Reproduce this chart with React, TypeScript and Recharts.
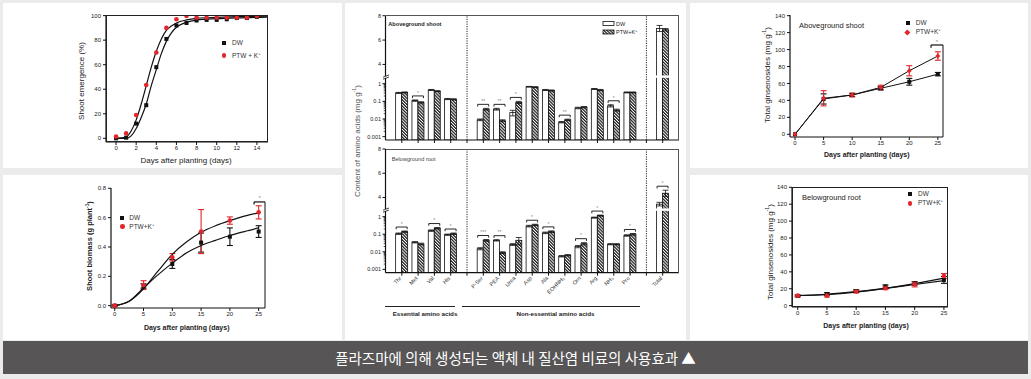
import React from 'react'
import { ScatterChart, Scatter, XAxis, YAxis, ErrorBar, ReferenceLine, BarChart, Bar } from 'recharts'

const FONT = '"Liberation Sans", Arial, Helvetica, sans-serif'
const INK = '#111'
const RED = '#e2262b'

// shoot emergence (%)
const emergDays = [0, 1, 2, 3, 4, 5, 6, 7, 8, 9, 10, 11, 12, 13, 14]
const emergDW = [0, 0.5, 12, 27, 58, 81, 92, 94, 96, 96.5, 96.5, 97, 98, 98, 99]
const emergPTW = [1.4, 4, 19, 43.5, 70, 90, 97, 99.7, 98.4, 98.4, 98.4, 98.4, 98.4, 98.4, 99.7]
const emergFitX = [0, 1, 1.5, 2, 2.5, 3, 3.5, 4, 4.5, 5, 5.5, 6, 7, 8, 10, 12, 15]
const emergFitDW = [0, 0, 2, 8, 17, 28, 43, 56, 69, 79, 86, 90.5, 94.5, 96.3, 97.5, 98.2, 98.8]
const emergFitPTW = [0, 1, 6, 15, 28, 43, 58, 71, 81, 88, 91.5, 94, 96.5, 97.8, 98.6, 99.1, 99.5]

// shoot biomass (g plant-1)
const bioDays = [0, 5, 10, 15, 20, 25]
const bioDW = [0, 0.134, 0.284, 0.43, 0.47, 0.505]
const bioDWErr = [0.005, 0.015, 0.03, 0.065, 0.06, 0.04]
const bioPTW = [0, 0.14, 0.33, 0.505, 0.58, 0.636]
const bioPTWErr = [0.005, 0.03, 0.025, 0.15, 0.025, 0.045]
const bioFitX = [0, 2.5, 5, 7.5, 10, 12.5, 15, 17.5, 20, 22.5, 25]
const bioFitDW = [0, 0.03, 0.12, 0.21, 0.29, 0.36, 0.41, 0.445, 0.478, 0.505, 0.53]
const bioFitPTW = [0, 0.03, 0.115, 0.235, 0.35, 0.435, 0.5, 0.545, 0.58, 0.61, 0.633]

// total ginsenosides (mg g-1)
const ginDays = [0, 5, 10, 15, 20, 25]
const ginShootDW = [0, 41.7, 46.4, 54.3, 62, 71]
const ginShootDWErr = [0, 6, 2, 2, 4, 2]
const ginShootPTW = [0, 42.5, 46.4, 55.4, 75, 92.4]
const ginShootPTWErr = [0, 9, 2, 2.5, 6, 5]
const ginRootDW = [11.4, 13.8, 17.3, 22.5, 26.4, 30.4]
const ginRootDWErr = [1, 1.5, 1.5, 2, 2, 4]
const ginRootPTW = [11.8, 11.8, 16.6, 20.5, 25.2, 35]
const ginRootPTWErr = [1, 1.5, 1.5, 1.5, 3, 3]
const ginRootFitDW = [12, 13.5, 16.5, 20.5, 25, 29.5]
const ginRootFitPTW = [12, 13, 16, 20.5, 26, 32.5]

// amino acids (mg g-1)
const aaNames = ['Thr', 'Met', 'Val', 'His', 'sep1', 'P-Ser', 'PEA', 'Urea', 'Asp', 'Ala', 'EOHNH₂', 'Orn', 'Arg', 'NH₃', 'Pro', 'sep2', 'Total']
const shootDW = [0.3, 0.11, 0.44, 0.135, null, 0.009, 0.036, 0.023, 0.67, 0.44, 0.0066, 0.042, 0.5, 0.056, 0.32, null, 6.95]
const shootPTW = [0.32, 0.087, 0.38, 0.13, null, 0.036, 0.008, 0.087, 0.64, 0.41, 0.009, 0.047, 0.44, 0.032, 0.32, null, 6.85]
const shootDWErr = [0.02, 0.01, 0.03, 0.01, 0, 0.001, 0.004, 0.008, 0.03, 0.03, 0.0006, 0.004, 0.03, 0.008, 0.02, 0, 0.25]
const shootPTWErr = [0.02, 0.008, 0.02, 0.01, 0, 0.004, 0.001, 0.012, 0.03, 0.03, 0.0008, 0.004, 0.03, 0.004, 0.02, 0, 0.1]
const shootSig = ['', '*', '', '', '', '**', '**', '*', '', '', '**', '', '', '*', '', '', '']
const rootDW = [0.107, 0.035, 0.16, 0.094, null, 0.015, 0.045, 0.026, 0.29, 0.12, 0.0056, 0.02, 0.88, 0.027, 0.085, null, 3.45]
const rootPTW = [0.14, 0.028, 0.22, 0.107, null, 0.045, 0.009, 0.045, 0.34, 0.14, 0.0064, 0.029, 1.15, 0.027, 0.1, null, 4.35]
const rootDWErr = [0.01, 0.003, 0.015, 0.008, 0, 0.002, 0.004, 0.003, 0.03, 0.012, 0.0005, 0.003, 0.06, 0.002, 0.008, 0, 0.15]
const rootPTWErr = [0.012, 0.003, 0.02, 0.01, 0, 0.005, 0.001, 0.02, 0.03, 0.015, 0.0005, 0.004, 0.08, 0.002, 0.01, 0, 0.25]
const rootSig = ['*', '', '*', '*', '', '***', '**', '', '*', '*', '', '*', '*', '', '*', '', '*']

// broken y axis: log part below the break, linear part above
const LOG_OFF = 3.19
const T_BREAK = 3.59
const V_BREAK = 3
const SLOPE = 0.69
const T_MAX = 7.04
const tv = (v: number) => (v >= 2.5 ? T_BREAK + (v - V_BREAK) * SLOPE : Math.log10(v) + LOG_OFF)

const AA_MAJORS = [
  [0.001, '0.001'], [0.01, '0.01'], [0.1, '0.1'], [1, '1'], [4, '4'], [6, '6'], [8, '8'],
].map(([v, label]) => ({ t: tv(v as number), label: label as string }))
const AA_MINORS: number[] = []
for (const k of [0.001, 0.01, 0.1]) for (let m = 2; m <= 9; m++) AA_MINORS.push(tv(k * m))
const AA_TICKS = [...AA_MAJORS.map(d => d.t), ...AA_MINORS].sort((a, b) => a - b)

const errPair = (v: number, e: number) => [tv(v) - tv(Math.max(v - e, v * 0.5)), tv(v + e) - tv(v)]

function buildRows(dw: (number | null)[], ptw: (number | null)[], dwE: number[], ptwE: number[], sig: string[]) {
  return aaNames.map((name, i) => {
    const a = dw[i]
    const b = ptw[i]
    return {
      name,
      dw: a == null ? null : tv(a),
      ptw: b == null ? null : tv(b),
      dwErr: a == null ? undefined : errPair(a, dwE[i]),
      ptwErr: b == null ? undefined : errPair(b, ptwE[i]),
      sig: sig[i],
    }
  })
}

const shootRows = buildRows(shootDW, shootPTW, shootDWErr, shootPTWErr, shootSig)
const rootRows = buildRows(rootDW, rootPTW, rootDWErr, rootPTWErr, rootSig)

const pts = (xs: number[], ys: number[], errs?: number[]) => xs.map((x, i) => ({ x, y: ys[i], err: errs ? errs[i] : undefined }))

// markers
const Sq = (p: any) => <rect x={p.cx - 2} y={p.cy - 2} width={4} height={4} fill={INK} />
const RedDot = (p: any) => <circle cx={p.cx} cy={p.cy} r={2.3} fill={RED} />
const RedDia = (p: any) => (
  <path d={`M${p.cx},${p.cy - 2.8}L${p.cx + 2.4},${p.cy}L${p.cx},${p.cy + 2.8}L${p.cx - 2.4},${p.cy}Z`} fill={RED} />
)
const NoMark = () => <g />
const EmptyTick = () => <g />

const tickFont = { fontSize: 6, fill: '#222', fontFamily: FONT }
const axLine = { stroke: INK, strokeWidth: 1.2 }

function xAx(domain: number[], ticks: number[]) {
  return {
    type: 'number' as const, dataKey: 'x', domain, ticks, allowDataOverflow: true, interval: 0 as const,
    height: 20, tickSize: 3, tickMargin: 1, axisLine: axLine, tickLine: { stroke: INK }, tick: tickFont,
  }
}
function yAx(domain: number[], ticks: number[], fmt?: (v: number) => string) {
  return {
    type: 'number' as const, dataKey: 'y', domain, ticks, allowDataOverflow: true, interval: 0 as const,
    width: 30, tickSize: 3, tickMargin: 2, axisLine: axLine, tickLine: { stroke: INK }, tick: tickFont,
    tickFormatter: fmt,
  }
}
// plot box (relative to chart) -> margin
const mg = (W: number, H: number, p: { l: number; t: number; r: number; b: number }, yw: number, xh: number) => ({
  left: p.l - yw, top: p.t, right: W - p.r, bottom: H - p.b - xh,
})

function Txt({ x, y, size = 7, bold = false, color = '#222', rot = 0, anchor = 'middle', children }: any) {
  const tx = anchor === 'middle' ? '-50%' : anchor === 'end' ? '-100%' : '0'
  return (
    <div
      style={{
        position: 'absolute', left: x, top: y, transform: `translate(${tx},-50%) rotate(${rot}deg)`,
        fontSize: size, fontWeight: bold ? 700 : 400, color, whiteSpace: 'nowrap', lineHeight: 1, fontFamily: FONT,
      }}
    >
      {children}
    </div>
  )
}
const Sup = ({ children }: any) => <sup style={{ fontSize: '0.65em', lineHeight: 0 }}>{children}</sup>

function LegendItems({ x, y1, y2, gap = 8, red = 'dot', ptwText }: any) {
  return (
    <>
      <div style={{ position: 'absolute', left: x - 2, top: y1 - 2, width: 4, height: 4, background: INK }} />
      <Txt x={x + gap} y={y1} size={6.5} anchor="start" color="#333">DW</Txt>
      <div
        style={{
          position: 'absolute', left: x - 2.3, top: y2 - 2.3, width: 4.6, height: 4.6, background: RED,
          borderRadius: red === 'dot' ? '50%' : 0, transform: red === 'dot' ? undefined : 'rotate(45deg) scale(0.85)',
        }}
      />
      <Txt x={x + gap} y={y2} size={6.5} anchor="start" color="#333">{ptwText}</Txt>
    </>
  )
}

function Box({ x, y, w, h, sides = 'all', color = '#222', bw = 1 }: any) {
  const b = `${bw}px solid ${color}`
  return (
    <div
      style={{
        position: 'absolute', left: x, top: y, width: w, height: h, boxSizing: 'border-box',
        borderTop: b, borderRight: b, borderLeft: sides === 'all' ? b : undefined, borderBottom: sides === 'all' ? b : undefined,
      }}
    />
  )
}

function Hatch({ id }: { id: string }) {
  return (
    <pattern id={id} width={2.2} height={2.2} patternUnits="userSpaceOnUse" patternTransform="rotate(-45)">
      <rect width={2.2} height={2.2} fill="#fff" />
      <line x1={0.6} y1={0} x2={0.6} y2={2.2} stroke="#1a1a1a" strokeWidth={1.25} />
    </pattern>
  )
}

function makeShape(fill: string, pxPerT: number, withSig: boolean) {
  return (p: any) => {
    const { x, y, width, height, payload } = p
    if (height == null || !(height > 0)) return <g />
    const bottom = y + height
    const breakY = bottom - T_BREAK * pxPerT
    const parts = [<rect key="r" x={x} y={y} width={width} height={height} fill={fill} stroke={INK} strokeWidth={0.8} />]
    if (y < breakY - 2) parts.push(<rect key="g" x={x - 1} y={breakY - 1.2} width={width + 2} height={2.4} fill="#fff" />)
    if (withSig && payload && payload.sig) {
      const topT = Math.max(payload.dw + (payload.dwErr ? payload.dwErr[1] : 0), payload.ptw + (payload.ptwErr ? payload.ptwErr[1] : 0))
      const yb = bottom - topT * pxPerT - 4
      const x0 = x - width + 0.5
      const x1 = x + width - 0.5
      parts.push(<path key="s" d={`M${x0},${yb + 2.2}V${yb}H${x1}V${yb + 2.2}`} fill="none" stroke={INK} strokeWidth={0.9} />)
      parts.push(
        <text key="t" x={(x0 + x1) / 2} y={yb - 1.2} textAnchor="middle" fontSize={5} fill="#888" fontFamily={FONT}>
          {payload.sig}
        </text>
      )
    }
    return <g>{parts}</g>
  }
}

function AAYTick(props: any) {
  const { x, y, payload } = props
  const ax = x + 5
  const m = AA_MAJORS.find(d => Math.abs(d.t - payload.value) < 1e-6)
  return (
    <g>
      <line x1={ax - (m ? 3 : 1.8)} x2={ax} y1={y} y2={y} stroke={INK} strokeWidth={m ? 1 : 0.7} />
      {m && (
        <text x={ax - 4.5} y={y} dy={2} textAnchor="end" fontSize={5.5} fill="#222" fontFamily={FONT}>
          {m.label}
        </text>
      )}
    </g>
  )
}

function AAXTick(props: any) {
  const { x, y, payload } = props
  if (String(payload.value).startsWith('sep')) return <g />
  return (
    <text x={x} y={y + 1} transform={`rotate(-45 ${x} ${y + 1})`} textAnchor="end" fontSize={5.5} fill="#333" fontFamily={FONT}>
      {payload.value}
    </text>
  )
}

function AminoChart({ rows, W, H, plot, xh, labels, pid }: any) {
  const pxPerT = (plot.b - plot.t) / T_MAX
  return (
    <BarChart width={W} height={H} data={rows} margin={mg(W, H, plot, 40, xh)} barGap={0}>
      <defs>
        <Hatch id={pid} />
      </defs>
      <XAxis
        dataKey="name" type="category" padding={{ left: 8.15, right: 8.15 }} height={xh} interval={0}
        axisLine={axLine} tickLine={{ stroke: INK }} tickSize={3} tickMargin={2} tick={labels ? AAXTick : EmptyTick}
      />
      <YAxis
        type="number" domain={[0, T_MAX]} allowDataOverflow ticks={AA_TICKS} interval={0} width={40}
        tickSize={3} tickMargin={2} tickLine={false} tick={AAYTick} axisLine={axLine}
      />
      <ReferenceLine x="sep1" stroke="#222" strokeDasharray="1.2 1.2" />
      <ReferenceLine x="sep2" stroke="#222" strokeDasharray="1.2 1.2" />
      <Bar dataKey="dw" barSize={6} shape={makeShape('#fff', pxPerT, false)} isAnimationActive={false}>
        <ErrorBar dataKey="dwErr" width={3} stroke={INK} strokeWidth={0.8} />
      </Bar>
      <Bar dataKey="ptw" barSize={6} shape={makeShape(`url(#${pid})`, pxPerT, true)} isAnimationActive={false}>
        <ErrorBar dataKey="ptwErr" width={3} stroke={INK} strokeWidth={0.8} />
      </Bar>
    </BarChart>
  )
}

function BreakMark({ x, y }: any) {
  return (
    <svg style={{ position: 'absolute', left: x - 5, top: y - 5 }} width={10} height={10}>
      <rect x={3} y={4} width={4} height={2} fill="#fff" />
      <line x1={2} y1={5.2} x2={8} y2={3} stroke={INK} strokeWidth={0.8} />
      <line x1={2} y1={7.2} x2={8} y2={5} stroke={INK} strokeWidth={0.8} />
    </svg>
  )
}

const abs = (left: number, top: number): React.CSSProperties => ({ position: 'absolute', left, top })

export default function App() {
  const ptwK = <>PTW+K<Sup>+</Sup></>
  return (
    <div style={{ position: 'relative', width: 1031, height: 379, background: '#ebebeb', overflow: 'hidden', fontFamily: FONT }}>
      <style>{'body{margin:0}'}</style>
      {/* panels */}
      <div style={{ ...abs(3, 3), width: 339, height: 165, background: '#fff' }} />
      <div style={{ ...abs(3, 175), width: 339, height: 165, background: '#fff' }} />
      <div style={{ ...abs(345, 3), width: 341, height: 337, background: '#fff' }} />
      <div style={{ ...abs(690, 3), width: 338, height: 165, background: '#fff' }} />
      <div style={{ ...abs(690, 175), width: 338, height: 165, background: '#fff' }} />

      {/* shoot emergence */}
      <div style={abs(3, 3)}>
        <ScatterChart width={339} height={165} margin={mg(339, 165, { l: 103, t: 12, r: 265, b: 139 }, 30, 20)}>
          <XAxis {...xAx([-1, 15.1], [0, 2, 4, 6, 8, 10, 12, 14])} />
          <YAxis {...yAx([-3, 100.5], [0, 20, 40, 60, 80, 100])} />
          <Scatter data={pts(emergFitX, emergFitDW)} line={{ stroke: INK, strokeWidth: 1.2 }} lineJointType="monotoneX" shape={NoMark} isAnimationActive={false} />
          <Scatter data={pts(emergFitX, emergFitPTW)} line={{ stroke: INK, strokeWidth: 1.2 }} lineJointType="monotoneX" shape={NoMark} isAnimationActive={false} />
          <Scatter data={pts(emergDays, emergDW)} shape={Sq} isAnimationActive={false} />
          <Scatter data={pts(emergDays, emergPTW)} shape={RedDot} isAnimationActive={false} />
        </ScatterChart>
      </div>
      <Box x={106} y={15} w={162} h={127} />
      <Txt x={81.7} y={80.8} size={8} rot={-90}>Shoot emergence (%)</Txt>
      <Txt x={186} y={160.7} size={8}>Days after planting (days)</Txt>
      <LegendItems x={224} y1={43.3} y2={55.7} ptwText={<>PTW + K<Sup>+</Sup></>} />

      {/* shoot biomass */}
      <div style={abs(3, 175)}>
        <ScatterChart width={339} height={165} margin={mg(339, 165, { l: 108, t: 13, r: 262, b: 133 }, 30, 20)}>
          <XAxis {...xAx([-0.65, 26.1], [0, 5, 10, 15, 20, 25])} />
          <YAxis {...yAx([-0.016, 0.802], [0, 0.2, 0.4, 0.6, 0.8], v => v.toFixed(1))} />
          <ReferenceLine segment={[{ x: 24.2, y: 0.69 }, { x: 24.2, y: 0.707 }]} stroke={INK} strokeWidth={1.2} ifOverflow="visible" />
          <ReferenceLine segment={[{ x: 24.2, y: 0.707 }, { x: 26.1, y: 0.707 }]} stroke={INK} strokeWidth={1.2} ifOverflow="visible" />
          <ReferenceLine segment={[{ x: 26.1, y: 0.707 }, { x: 26.1, y: -0.016 }]} stroke={INK} strokeWidth={1} ifOverflow="visible" />
          <Scatter data={pts(bioFitX, bioFitDW)} line={{ stroke: INK, strokeWidth: 1.2 }} lineJointType="monotoneX" shape={NoMark} isAnimationActive={false} />
          <Scatter data={pts(bioFitX, bioFitPTW)} line={{ stroke: INK, strokeWidth: 1.2 }} lineJointType="monotoneX" shape={NoMark} isAnimationActive={false} />
          <Scatter data={pts(bioDays, bioDW, bioDWErr)} shape={Sq} isAnimationActive={false}>
            <ErrorBar dataKey="err" direction="y" width={3} stroke={INK} strokeWidth={1.1} />
          </Scatter>
          <Scatter data={pts(bioDays, bioPTW, bioPTWErr)} shape={RedDot} isAnimationActive={false}>
            <ErrorBar dataKey="err" direction="y" width={3} stroke={RED} strokeWidth={1.1} />
          </Scatter>
        </ScatterChart>
      </div>
      <Txt x={259.6} y={197.5} size={6} color="#888">*</Txt>
      <Txt x={90} y={245.8} size={7.5} bold rot={-90}>Shoot biomass (g plant<Sup>-1</Sup>)</Txt>
      <Txt x={186.7} y={326.7} size={7} bold>Days after planting (days)</Txt>
      <LegendItems x={122.3} y1={217.7} y2={226.7} gap={7} ptwText={ptwK} />

      {/* amino acids */}
      <div style={abs(345, 3)}>
        <AminoChart rows={shootRows} W={341} H={150} plot={{ l: 40.5, t: 12.7, r: 334, b: 137 }} xh={10} labels={false} pid="hatchTop" />
      </div>
      <div style={abs(345, 140)}>
        <AminoChart rows={rootRows} W={341} H={180} plot={{ l: 40.5, t: 9, r: 334, b: 132.7 }} xh={40} labels pid="hatchBot" />
      </div>
      <Box x={385.5} y={15.2} w={293.5} h={125} sides="tr" color="#555" bw={1.4} />
      <Box x={385.5} y={148.5} w={293.5} h={124.5} sides="tr" color="#555" bw={1.4} />
      <BreakMark x={385.5} y={76.6} />
      <BreakMark x={385.5} y={209.6} />
      <Txt x={388.3} y={25} size={5.6} bold anchor="start">Aboveground shoot</Txt>
      <Txt x={391.7} y={160} size={5.6} anchor="start" color="#444">Belowground root</Txt>
      <svg style={abs(600, 18)} width={80} height={20}>
        <defs>
          <Hatch id="hatchLeg" />
        </defs>
        <rect x={3} y={3.5} width={11} height={4} fill="#fff" stroke={INK} strokeWidth={0.8} />
        <text x={16} y={7.5} fontSize={5.5} fill="#222" fontFamily={FONT}>DW</text>
        <rect x={3} y={12} width={11} height={4} fill="url(#hatchLeg)" stroke={INK} strokeWidth={0.8} />
        <text x={16} y={16} fontSize={5.5} fill="#222" fontFamily={FONT}>
          PTW+K<tspan dy={-2} fontSize={4}>+</tspan>
        </text>
      </svg>
      <Txt x={358.3} y={141} size={8} rot={-90} color="#555">Content of amino acids (mg g<Sup>-1</Sup>)</Txt>
      <div style={{ ...abs(385, 305.7), width: 70, borderTop: '1px solid #222' }} />
      <div style={{ ...abs(461.7, 305.7), width: 178.3, borderTop: '1px solid #222' }} />
      <Txt x={425} y={314} size={6.2} bold>Essential amino acids</Txt>
      <Txt x={555.5} y={314} size={6.2} bold>Non-essential amino acids</Txt>

      {/* ginsenosides, aboveground shoot */}
      <div style={abs(690, 3)}>
        <ScatterChart width={338} height={165} margin={mg(338, 165, { l: 100, t: 12, r: 253, b: 134 }, 30, 20)}>
          <XAxis {...xAx([-0.88, 25.9], [0, 5, 10, 15, 20, 25])} />
          <YAxis {...yAx([-3.2, 140.8], [0, 20, 40, 60, 80, 100, 120, 140])} />
          <ReferenceLine segment={[{ x: 23.8, y: 102 }, { x: 23.8, y: 105.4 }]} stroke={INK} strokeWidth={1.2} ifOverflow="visible" />
          <ReferenceLine segment={[{ x: 23.8, y: 105.4 }, { x: 25.9, y: 105.4 }]} stroke={INK} strokeWidth={1.2} ifOverflow="visible" />
          <ReferenceLine segment={[{ x: 25.9, y: 105.4 }, { x: 25.9, y: -3.2 }]} stroke={INK} strokeWidth={1} ifOverflow="visible" />
          <Scatter data={pts(ginDays, ginShootDW, ginShootDWErr)} line={{ stroke: INK, strokeWidth: 1 }} shape={Sq} isAnimationActive={false}>
            <ErrorBar dataKey="err" direction="y" width={3} stroke={INK} strokeWidth={1.1} />
          </Scatter>
          <Scatter data={pts(ginDays, ginShootPTW, ginShootPTWErr)} line={{ stroke: INK, strokeWidth: 1 }} shape={RedDia} isAnimationActive={false}>
            <ErrorBar dataKey="err" direction="y" width={3} stroke={RED} strokeWidth={1.1} />
          </Scatter>
        </ScatterChart>
      </div>
      <Txt x={936.8} y={41.5} size={6} color="#888">*</Txt>
      <Txt x={799} y={26} size={7.5} anchor="start">Aboveground shoot</Txt>
      <Txt x={768.3} y={75} size={8} rot={-90}>Total ginsenosides (mg g<Sup>-1</Sup>)</Txt>
      <Txt x={866.8} y={154.3} size={7} bold>Days after planting (days)</Txt>
      <LegendItems x={907.7} y1={22.7} y2={32.3} red="dia" ptwText={ptwK} />

      {/* ginsenosides, belowground root */}
      <div style={abs(690, 175)}>
        <ScatterChart width={338} height={165} margin={mg(338, 165, { l: 102, t: 12.3, r: 258, b: 132 }, 30, 20)}>
          <XAxis {...xAx([-0.98, 25.7], [0, 5, 10, 15, 20, 25])} />
          <YAxis {...yAx([-1.6, 140], [0, 20, 40, 60, 80, 100, 120, 140])} />
          <Scatter data={pts(ginDays, ginRootFitDW)} line={{ stroke: INK, strokeWidth: 1.2 }} lineJointType="monotoneX" shape={NoMark} isAnimationActive={false} />
          <Scatter data={pts(ginDays, ginRootFitPTW)} line={{ stroke: INK, strokeWidth: 1.2 }} lineJointType="monotoneX" shape={NoMark} isAnimationActive={false} />
          <Scatter data={pts(ginDays, ginRootDW, ginRootDWErr)} shape={Sq} isAnimationActive={false}>
            <ErrorBar dataKey="err" direction="y" width={3} stroke={INK} strokeWidth={1.1} />
          </Scatter>
          <Scatter data={pts(ginDays, ginRootPTW, ginRootPTWErr)} shape={RedDot} isAnimationActive={false}>
            <ErrorBar dataKey="err" direction="y" width={3} stroke={RED} strokeWidth={1.1} />
          </Scatter>
        </ScatterChart>
      </div>
      <Box x={792} y={187.3} w={156} h={119.7} />
      <Txt x={802} y={198.3} size={7.5} anchor="start">Belowground root</Txt>
      <Txt x={771} y={251.7} size={8} rot={-90}>Total ginsenosides (mg g<Sup>-1</Sup>)</Txt>
      <Txt x={866} y={325} size={7} bold>Days after planting (days)</Txt>
      <LegendItems x={910} y1={194} y2={203.3} ptwText={ptwK} />

      {/* caption */}
      <div
        style={{
          ...abs(3, 341), width: 1025, height: 33, background: '#575556', color: '#fff', textAlign: 'center',
          lineHeight: '33px', fontSize: 14.5, fontFamily: '"Noto Sans CJK KR", "Noto Sans", sans-serif',
        }}
      >
        플라즈마에 의해 생성되는 액체 내 질산염 비료의 사용효과 ▲
      </div>
    </div>
  )
}
